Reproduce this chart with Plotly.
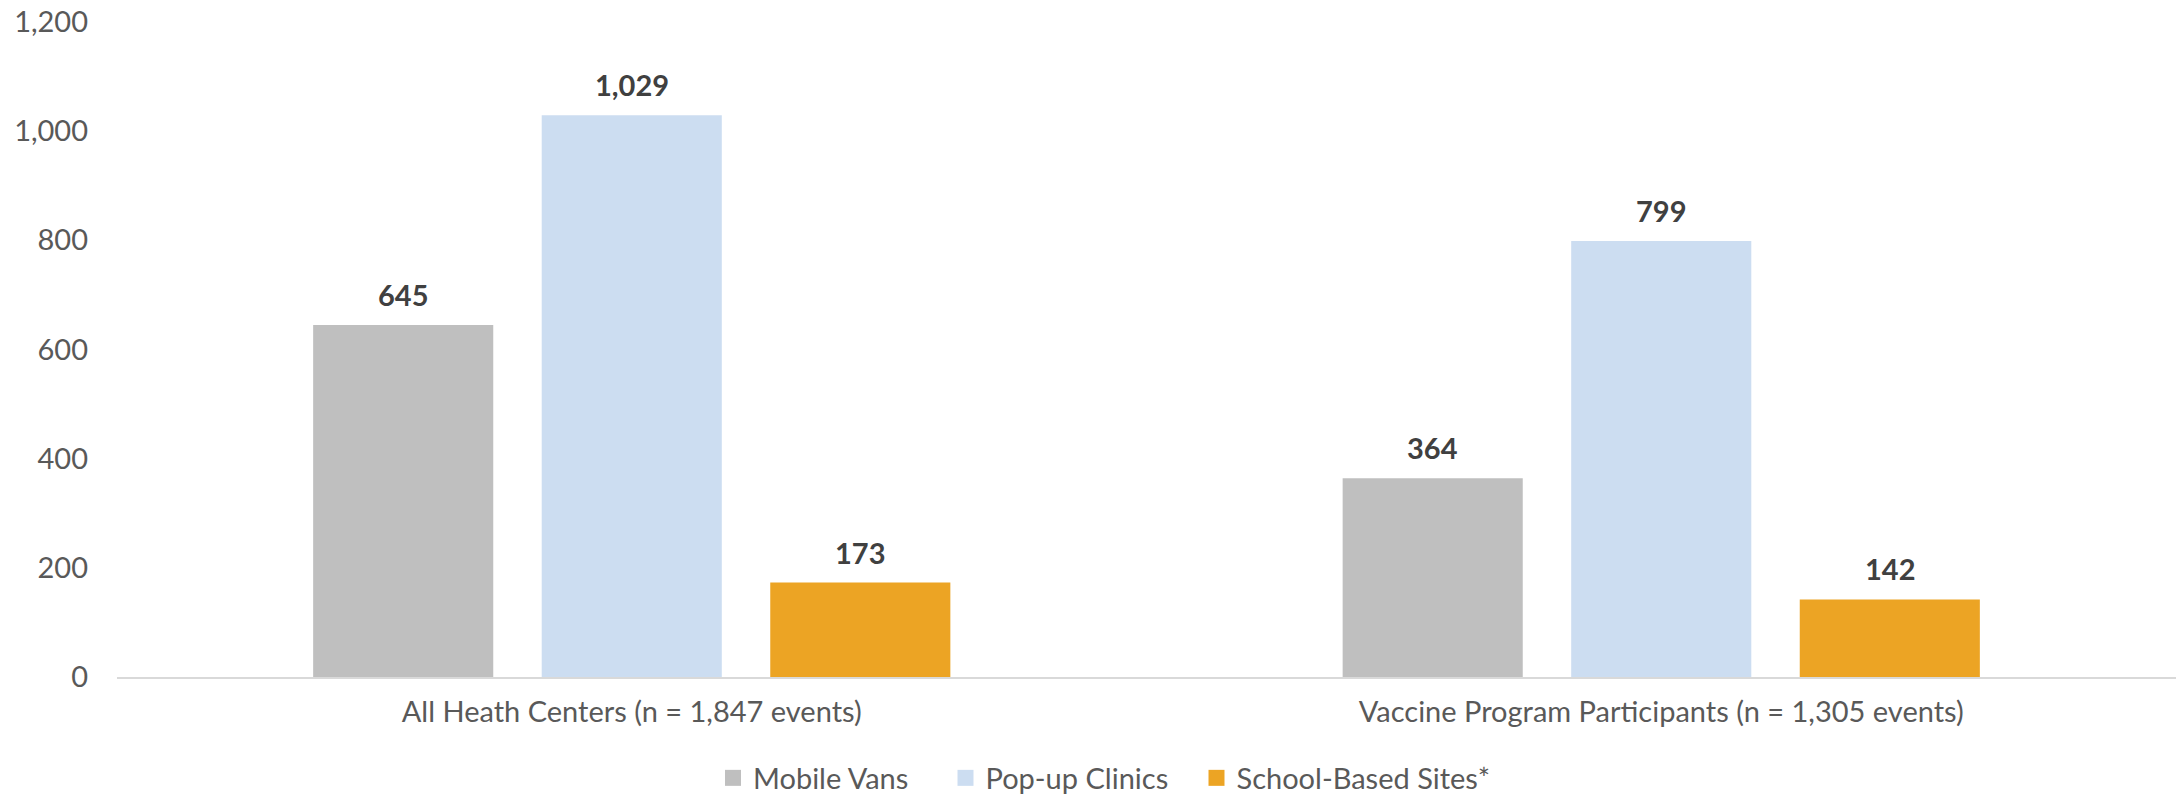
import plotly.graph_objects as go

categories = ["All Heath Centers (n = 1,847 events)", "Vaccine Program Participants (n = 1,305 events)"]
series_names = ["Mobile Vans", "Pop-up Clinics", "School-Based Sites*"]
mobile_vans = [645, 364]
popup_clinics = [1029, 799]
school_sites = [173, 142]
y_tick_values = [0, 200, 400, 600, 800, 1000, 1200]

colors = ["#BFBFBF", "#CCDDF1", "#ECA424"]
legend_widths = [187.5, 206, 280]
FONT = "Lato"
FS = 29
BARGAP = 0.334
BARGROUPGAP = 0.212

W, H = 2178, 795

series = [mobile_vans, popup_clinics, school_sites]
fig = go.Figure()
for name, vals, col in zip(series_names, series, colors):
    fig.add_trace(go.Bar(
        x=categories, y=vals, name=name,
        marker=dict(color=col, line=dict(width=0)),
        showlegend=False, hoverinfo="x+y",
    ))
for name, col, lw in zip(series_names, colors, legend_widths):
    fig.add_trace(go.Scatter(
        x=[None], y=[None], mode="markers", name=name,
        marker=dict(symbol="square", size=17, color=col),
        legendwidth=lw, showlegend=True,
    ))

# value labels above each bar, placed on the bar's category slot
n = len(series)
slot = (1 - BARGAP) / n
annotations = []
for k, vals in enumerate(series):
    for i, v in enumerate(vals):
        annotations.append(dict(
            x=i + (k - (n - 1) / 2) * slot, y=v, xref="x", yref="y",
            text=f"{v:,}", showarrow=False, yanchor="bottom", yshift=11,
            font=dict(family=FONT, size=FS, color="#404040", weight="bold"),
        ))

fig.update_layout(
    width=W, height=H,
    margin=dict(l=117, r=2, t=22, b=118, autoexpand=False),
    paper_bgcolor="white", plot_bgcolor="white",
    barmode="group", bargap=BARGAP, bargroupgap=BARGROUPGAP,
    font=dict(family=FONT, size=FS, color="#595959"),
    annotations=annotations,
    legend=dict(
        orientation="h", xref="container", yref="container",
        x=713 / W, xanchor="left", y=17 / H, yanchor="middle",
        font=dict(family=FONT, size=FS, color="#595959"),
        bgcolor="rgba(0,0,0,0)",
    ),
    xaxis=dict(
        type="category", showline=True, linecolor="#D9D9D9", linewidth=2,
        showgrid=False, zeroline=False, ticks="", ticklabelstandoff=8,
        tickfont=dict(family=FONT, size=FS, color="#595959"),
    ),
    yaxis=dict(
        range=[0, 1200], tickvals=y_tick_values, tickformat=",",
        showgrid=False, zeroline=False, showline=False, ticks="",
        ticklabelstandoff=28, ticklabeloverflow="allow",
        tickfont=dict(family=FONT, size=FS, color="#595959"),
    ),
)

fig.write_html(
    "out.html",
    config={"displayModeBar": False},
    post_script="document.body.style.margin='0px'; document.body.style.overflow='hidden';",
)
